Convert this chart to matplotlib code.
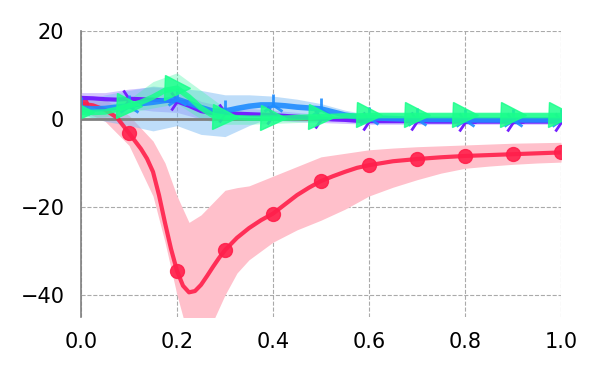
import numpy as np
import matplotlib
matplotlib.use("Agg")
import matplotlib.pyplot as plt

# ---- data ----
red_x = [0.0, 0.025, 0.05, 0.075, 0.1, 0.125, 0.1375, 0.15, 0.1625, 0.175, 0.1875, 0.2,
         0.2125, 0.225, 0.2375, 0.25, 0.2625, 0.275, 0.2875, 0.3, 0.325, 0.35, 0.375, 0.4,
         0.425, 0.45, 0.475, 0.5, 0.525, 0.55, 0.575, 0.6, 0.65, 0.7, 0.75, 0.8, 0.85,
         0.9, 0.95, 1.0]
red_y = [3.5, 3.1, 2.1, 0.3, -3.2, -6.8, -9.0, -12.0, -17.3, -23.6, -29.5, -34.5, -37.9,
         -39.4, -39.1, -37.7, -35.7, -33.6, -31.6, -29.8, -27.0, -24.8, -23.0, -21.5, -19.4,
         -17.3, -15.6, -14.1, -13.0, -12.0, -11.1, -10.5, -9.6, -9.1, -8.7, -8.4, -8.2,
         -8.0, -7.8, -7.6]
red_mark_x = [0.0, 0.1, 0.2, 0.3, 0.4, 0.5, 0.6, 0.7, 0.8, 0.9, 1.0]
red_mark_y = [3.5, -3.2, -34.5, -29.8, -21.5, -14.1, -10.5, -9.1, -8.4, -8.0, -7.6]

x_line = np.linspace(0, 1, 41)
purple_line = [4.8, 4.7, 4.5, 4.4, 4.6, 4.5, 4.4, 4.2, 4.0, 3.0, 1.8, 1.3, 1.3, 1.2, 1.1, 1.0,
               0.9, 0.7, 0.5, 0.3, 0.1, -0.1, -0.2, -0.4, -0.5, -0.5, -0.5, -0.5, -0.5, -0.6,
               -0.6, -0.6, -0.6, -0.6, -0.6, -0.6, -0.6, -0.6, -0.6, -0.6, -0.6]
blue_line = [2.5, 2.3, 2.4, 2.7, 3.0, 3.5, 3.8, 4.2, 4.5, 3.6, 2.6, 1.8, 1.8, 2.4, 2.9, 3.2,
             3.2, 3.0, 2.7, 2.5, 2.3, 1.6, 0.9, 0.5, 0.3, 0.2, 0.1, 0.0, 0.0, -0.1, -0.1, -0.1,
             -0.2, -0.2, -0.2, -0.2, -0.2, -0.2, -0.2, -0.2, -0.2]
green_line = [1.5, 1.5, 1.6, 2.2, 3.0, 3.8, 5.0, 6.5, 7.0, 5.0, 2.5, 0.8, 0.4, 0.3, 0.2, 0.2,
              0.2, 0.2, 0.3, 0.4, 0.5, 0.6, 0.7, 0.7, 0.8, 0.8, 0.8, 0.8, 0.8, 0.8, 0.8, 0.8,
              0.8, 0.8, 0.8, 0.8, 0.8, 0.8, 0.8, 0.8, 0.8]

red_band_x = [0.0, 0.05, 0.1, 0.15, 0.175, 0.2, 0.225, 0.25, 0.275, 0.3, 0.325, 0.35, 0.4,
              0.45, 0.5, 0.55, 0.6, 0.65, 0.7, 0.75, 0.8, 0.85, 0.9, 0.95, 1.0]
red_lo = [2.0, -0.5, -6.0, -17.5, -28.0, -40.0, -50.0, -50.0, -46.0, -40.0, -35.0, -32.0,
          -28.0, -25.2, -23.0, -20.5, -17.5, -15.5, -13.8, -12.3, -11.2, -10.7, -10.3,
          -10.0, -9.8]
red_hi = [5.0, 4.5, 0.8, -5.0, -10.0, -17.5, -23.5, -21.8, -19.0, -16.2, -15.6, -15.2, -13.0,
          -10.8, -8.6, -7.8, -7.0, -6.6, -6.3, -6.1, -5.9, -5.7, -5.5, -5.4, -5.3]

x_band = np.linspace(0, 1, 21)
purple_lo = [3.5, 2.8, 2.5, 1.8, 1.5, 0.0, -0.3, -0.3, -0.3, -0.6, -0.8, -1.0, -1.2, -1.2,
             -1.2, -1.2, -1.2, -1.2, -1.2, -1.2, -1.2]
purple_hi = [6.0, 6.0, 6.8, 7.3, 6.8, 4.0, 2.8, 2.4, 2.0, 1.5, 1.0, 0.6, 0.3, 0.2, 0.2, 0.2,
             0.1, 0.1, 0.1, 0.1, 0.1]
blue_lo = [1.0, -0.5, -1.5, -2.7, -1.5, -3.5, -4.0, -1.5, 0.5, 1.0, 0.8, 0.3, -0.2, -0.5,
           -0.6, -0.6, -0.6, -0.6, -0.6, -0.6, -0.6]
blue_hi = [4.0, 5.5, 6.5, 7.5, 7.0, 6.5, 5.5, 5.5, 5.2, 4.5, 3.5, 2.0, 1.0, 0.6, 0.5, 0.4,
           0.3, 0.3, 0.3, 0.3, 0.3]
green_lo = [0.2, 0.5, 1.5, 2.5, 3.5, 0.0, -1.2, -1.2, -1.0, -0.8, -0.5, -0.2, 0.1, 0.2, 0.2,
            0.2, 0.2, 0.2, 0.2, 0.2, 0.2]
green_hi = [2.5, 3.0, 4.5, 8.5, 10.5, 6.5, 2.5, 1.5, 1.2, 1.2, 1.3, 1.3, 1.3, 1.3, 1.3, 1.3,
            1.3, 1.3, 1.3, 1.3, 1.3]

xticks = [0.0, 0.2, 0.4, 0.6, 0.8, 1.0]
yticks = [-40, -20, 0, 20]

RED = "#ff1f4b"
PURPLE = "#7420ff"
BLUE = "#1e8cff"
GREEN = "#1aff8c"

fig = plt.figure(figsize=(6, 3.75), dpi=100)
ax = fig.add_axes([0.135, 0.1547, 0.8, 0.7626])

ax.fill_between(red_band_x, red_lo, red_hi, color="#ffc0cb", lw=0, zorder=1)
ax.fill_between(x_band, purple_lo, purple_hi, color="#a07cff", alpha=0.45, lw=0, zorder=1.1)
ax.fill_between(x_band, blue_lo, blue_hi, color="#7ebcf5", alpha=0.5, lw=0, zorder=1.2)
ax.fill_between(x_band, green_lo, green_hi, color="#3ff5a5", alpha=0.35, lw=0, zorder=1.3)

ax.axhline(0, color="#808080", lw=2, zorder=1.5)

ax.plot(red_x, red_y, color=RED, lw=3, alpha=0.9, zorder=2, solid_capstyle="round",
        solid_joinstyle="round")
ax.plot(red_mark_x, red_mark_y, linestyle="none", color=RED, marker="o", markersize=10,
        alpha=0.9, zorder=2.05)
ax.plot(x_line, purple_line, color=PURPLE, lw=3, marker="4", markersize=16, markevery=4,
        markeredgewidth=2, zorder=2.2, solid_joinstyle="round")
ax.plot(x_line, blue_line, color=BLUE, lw=4, marker="2", markersize=16, markevery=4,
        markeredgewidth=2, alpha=0.9, zorder=2.3, solid_joinstyle="round")
ax.plot(x_line, green_line, color=GREEN, lw=4, marker=">", markersize=18, markevery=4,
        alpha=0.85, zorder=2.5, solid_joinstyle="round")

ax.set_xlim(0, 1)
ax.set_ylim(-45, 20)
ax.set_xticks(xticks)
ax.set_yticks(yticks)
ax.grid(True, color="#aaaaaa", linestyle="--", lw=0.8)
ax.set_axisbelow(True)
for s in ["top", "right", "bottom"]:
    ax.spines[s].set_visible(False)
ax.spines["left"].set_color("#808080")
ax.spines["left"].set_linewidth(1.2)
ax.tick_params(axis="both", length=0, labelsize=15)
ax.tick_params(axis="x", pad=11)
ax.tick_params(axis="y", pad=12)

fig.savefig("out.png", dpi=100)
